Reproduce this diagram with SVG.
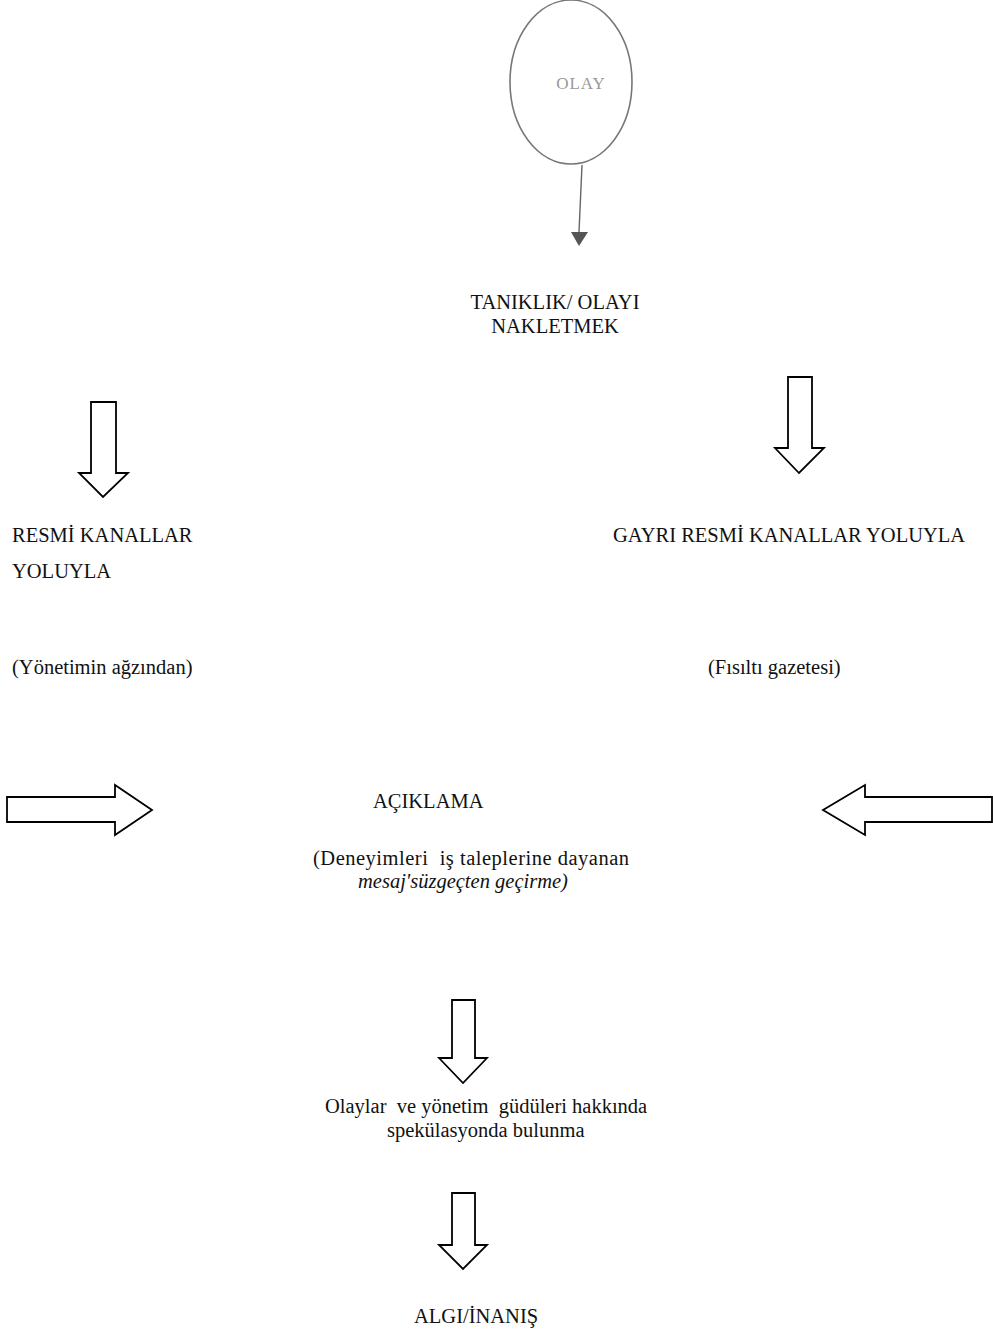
<svg xmlns="http://www.w3.org/2000/svg" width="993" height="1330" viewBox="0 0 993 1330">
<style>
.t{font-family:"Liberation Serif","Times New Roman",serif;font-size:20.5px;fill:#111}
.blk{fill:#fff;stroke:#000;stroke-width:1.8;stroke-linejoin:miter}
</style>
<rect width="993" height="1330" fill="#fff"/>
<g id="olay">
<ellipse cx="571" cy="82" rx="61" ry="82" fill="#fff" stroke="#777" stroke-width="1.6"/>
<text x="581" y="89" text-anchor="middle" style="font-family:'Liberation Serif',serif;font-size:17px;letter-spacing:1px;fill:#999">OLAY</text>
</g>
<g id="connectors">
<line x1="582" y1="165" x2="579" y2="232" stroke="#666" stroke-width="1.4"/>
<path d="M571,232 L588,232 L579,246 Z" fill="#555"/>
<path class="blk" d="M788,377 L812,377 L812,448 L824,448 L799,473 L775,448 L788,448 Z"/>
<path class="blk" d="M91,402 L116,402 L116,473 L128,473 L103,497 L79,473 L91,473 Z"/>
<path class="blk" d="M7,797 L115,797 L115,785 L152,810 L115,835 L115,822 L7,822 Z"/>
<path class="blk" d="M992,797 L865,797 L865,785 L823,810 L865,835 L865,822 L992,822 Z"/>
<path class="blk" d="M452,1000 L475,1000 L475,1058 L487,1058 L463,1083 L439,1058 L452,1058 Z"/>
<path class="blk" d="M452,1193 L475,1193 L475,1245 L487,1245 L463,1269 L439,1245 L452,1245 Z"/>
</g>
<g id="taniklik">
<text class="t" x="555" y="309" text-anchor="middle">TANIKLIK/ OLAYI</text>
<text class="t" x="555" y="333" text-anchor="middle">NAKLETMEK</text>
</g>
<g id="resmi">
<text class="t" x="12" y="542">RESMİ KANALLAR</text>
<text class="t" x="12" y="578">YOLUYLA</text>
<text class="t" x="12" y="674">(Yönetimin ağzından)</text>
</g>
<g id="gayri">
<text class="t" x="613" y="542">GAYRI RESMİ KANALLAR YOLUYLA</text>
<text class="t" x="708" y="674">(Fısıltı gazetesi)</text>
</g>
<g id="aciklama">
<text class="t" x="373" y="808">AÇIKLAMA</text>
</g>
<g id="deneyim">
<text class="t" x="313" y="865" xml:space="preserve" textLength="316" lengthAdjust="spacing">(Deneyimleri  iş taleplerine dayanan</text>
<text class="t" x="358" y="888" font-style="italic">mesaj'süzgeçten geçirme)</text>
</g>
<g id="olaylar">
<text class="t" x="325" y="1113" xml:space="preserve">Olaylar  ve yönetim  güdüleri hakkında</text>
<text class="t" x="387" y="1137">spekülasyonda bulunma</text>
</g>
<g id="algi">
<text class="t" x="414" y="1323">ALGI/İNANIŞ</text>
</g>
</svg>
